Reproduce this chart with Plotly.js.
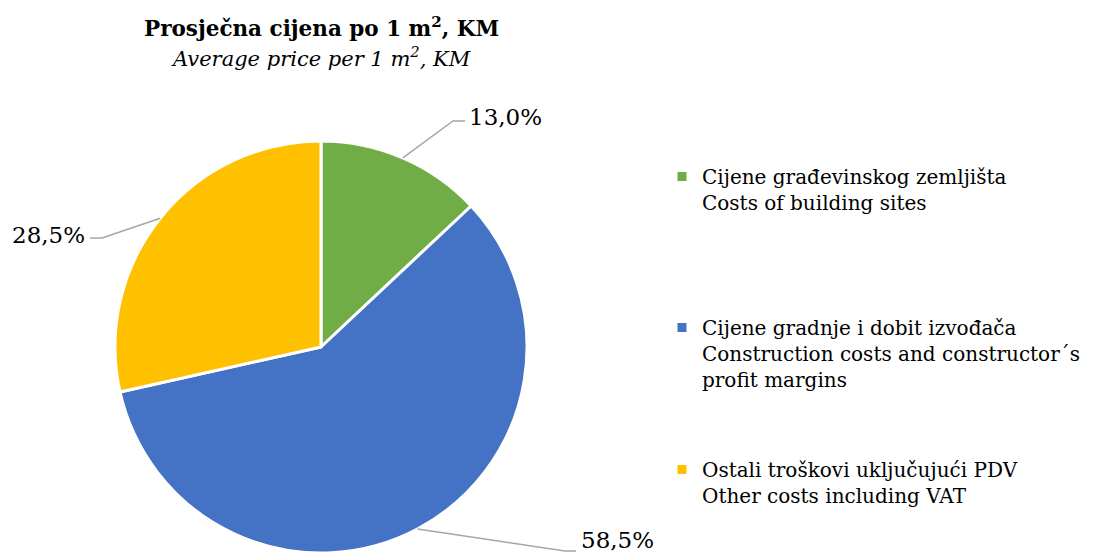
<!DOCTYPE html>
<html>
<head>
<meta charset="utf-8">
<script src="https://cdn.plot.ly/plotly-3.0.1.min.js"></script>
<style>html,body{margin:0;padding:0;background:#fff;}#chart{width:1093px;height:554px;}</style>
</head>
<body>
<div id="chart"></div>
<script>
// ---- data ----
var categories = [
  "Cijene građevinskog zemljišta<br>Costs of building sites",
  "Cijene gradnje i dobit izvođača<br>Construction costs and constructor´s<br>profit margins",
  "Ostali troškovi uključujući PDV<br>Other costs including VAT"
];
var shares = [13.0, 58.5, 28.5];
var colors = ["#70AD47", "#4472C4", "#FFC000"];
var titleLine1 = "Prosječna cijena po 1 m<sup>2</sup>, KM";
var titleLine2 = "Average price per 1 m<sup>2</sup>, KM";

// ---- layout helpers (pixel geometry) ----
var W = 1093, H = 554;
var cx = 321, cy = 347, R = 206;
function px(x){ return x / W; }
function py(y){ return 1 - y / H; }
var FONT = "DejaVu Serif, serif";

// label placement (style only)
var labelPos = [
  {elbow:[453,121], end:[465,121], tx:467, ty:117, anchor:"left"},
  {elbow:[565,551], end:[576,551], tx:579, ty:540, anchor:"left"},
  {elbow:[102,238], end:[90,238], tx:87, ty:235, anchor:"right"}
];
var legendTop = [157, 308, 450];

var total = shares.reduce(function(a,b){return a+b;},0);
var shapes = [], annotations = [];
var cum = 0;
for (var i = 0; i < shares.length; i++) {
  var mid = (cum + shares[i]/2) / total;
  cum += shares[i];
  var ang = mid * 2 * Math.PI;
  var ex = cx + R * Math.sin(ang), ey = cy - R * Math.cos(ang);
  var L = labelPos[i];
  shapes.push({
    type: "path", xref: "paper", yref: "paper",
    path: "M " + px(ex) + " " + py(ey) + " L " + px(L.elbow[0]) + " " + py(L.elbow[1]) + " L " + px(L.end[0]) + " " + py(L.end[1]),
    line: {color: "#A6A6A6", width: 1.5}
  });
  annotations.push({
    xref: "paper", yref: "paper", x: px(L.tx), y: py(L.ty),
    xanchor: L.anchor, yanchor: "middle", showarrow: false,
    text: shares[i].toFixed(1).replace(".", ",") + "%",
    font: {family: FONT, size: 23, color: "#000"}
  });
}
annotations.push({
  xref: "paper", yref: "paper", x: px(321), y: py(27), xanchor: "center", yanchor: "middle",
  showarrow: false, text: "<b>" + titleLine1 + "</b>", font: {family: FONT, size: 21.5, color: "#000"}
});
annotations.push({
  xref: "paper", yref: "paper", x: px(321), y: py(57), xanchor: "center", yanchor: "middle",
  showarrow: false, text: "<i>" + titleLine2 + "</i>", font: {family: FONT, size: 21, color: "#000"}
});

var traces = [{
  type: "pie",
  values: shares,
  labels: categories,
  sort: false,
  direction: "clockwise",
  rotation: 0,
  textinfo: "none",
  hoverinfo: "label+percent",
  marker: {colors: colors, line: {color: "#FFFFFF", width: 3}},
  domain: {x: [px(115), px(527)], y: [py(553), py(141)]},
  showlegend: false
}];
var legendNames = ["legend", "legend2", "legend3"];
for (var j = 0; j < categories.length; j++) {
  traces.push({
    type: "scatter", mode: "markers", x: [null], y: [null],
    name: categories[j],
    marker: {symbol: "square", size: 9, color: colors[j]},
    showlegend: true, legend: legendNames[j], hoverinfo: "skip"
  });
}
var layout = {
  width: W, height: H,
  margin: {l: 0, r: 0, t: 0, b: 0},
  paper_bgcolor: "#FFFFFF", plot_bgcolor: "#FFFFFF",
  xaxis: {visible: false, domain: [0.99, 1]},
  yaxis: {visible: false, domain: [0.99, 1]},
  shapes: shapes,
  annotations: annotations
};
for (var k = 0; k < legendNames.length; k++) {
  layout[legendNames[k]] = {
    x: px(662), y: py(legendTop[k]), xanchor: "left", yanchor: "top",
    valign: "top", bgcolor: "rgba(0,0,0,0)",
    font: {family: FONT, size: 20, color: "#000"},
    itemclick: false, itemdoubleclick: false
  };
}
Plotly.newPlot("chart", traces, layout, {displayModeBar: false, staticPlot: true});
</script>
</body>
</html>
